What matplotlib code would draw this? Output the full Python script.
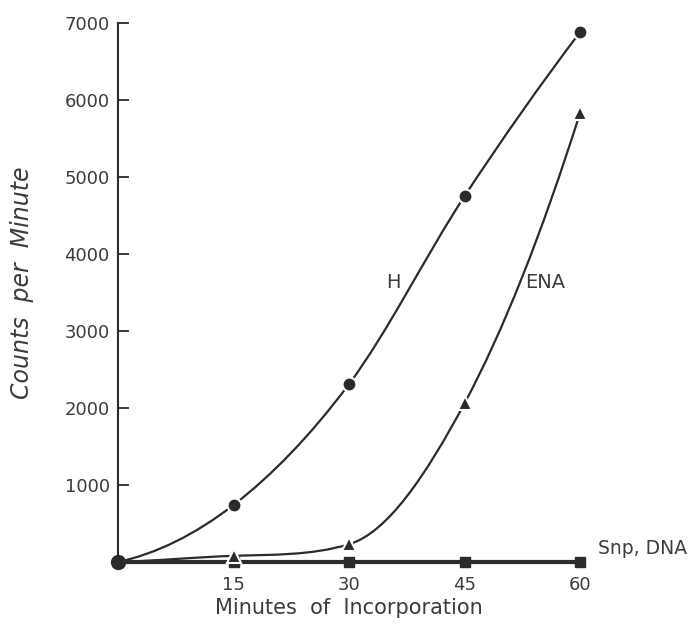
import numpy as np
import matplotlib
matplotlib.use("Agg")
import matplotlib.pyplot as plt
from matplotlib.path import Path
from matplotlib.patches import PathPatch

minutes = [0, 15, 30, 45, 60]
h_counts = [0, 740, 2310, 4750, 6880]
ena_counts = [0, 80, 230, 2060, 5830]
snp_dna_counts = [0, 0, 0, 0, 0]
y_ticks = [1000, 2000, 3000, 4000, 5000, 6000, 7000]
x_ticks = [15, 30, 45, 60]

LINE = "#2b2b2b"
TXT = "#3c3c3c"


def smooth_slopes(x, y):
    x = np.asarray(x, float); y = np.asarray(y, float)
    d = np.diff(y) / np.diff(x)
    m = np.zeros_like(y)
    m[1:-1] = (y[2:] - y[:-2]) / (x[2:] - x[:-2])
    m[0] = max(2 * d[0] - m[1], 0)
    m[-1] = 2 * d[-1] - m[-2]
    for k in range(len(d)):
        a = m[k] / d[k]; b = m[k + 1] / d[k]
        s = a * a + b * b
        if s > 9:
            t = 3 / np.sqrt(s)
            m[k] = t * a * d[k]; m[k + 1] = t * b * d[k]
    return m


def smooth_path(x, y):
    m = smooth_slopes(x, y)
    verts = [(x[0], y[0])]; codes = [Path.MOVETO]
    for k in range(len(x) - 1):
        dx = x[k + 1] - x[k]
        verts += [(x[k] + dx / 3, y[k] + m[k] * dx / 3),
                  (x[k + 1] - dx / 3, y[k + 1] - m[k + 1] * dx / 3),
                  (x[k + 1], y[k + 1])]
        codes += [Path.CURVE4] * 3
    return Path(verts, codes)


fig = plt.figure(figsize=(6.95, 6.27), dpi=100)
ax = fig.add_axes([118 / 695, 65 / 627, 462 / 695, 539 / 627])
ax.set_xlim(0, 60)
ax.set_ylim(0, 7000)

for ys in (h_counts, ena_counts):
    ax.add_patch(PathPatch(smooth_path(minutes, ys), facecolor="none",
                           edgecolor=LINE, lw=1.6, clip_on=False, zorder=2))

ax.plot(minutes, snp_dna_counts, color=LINE, lw=3.0, clip_on=False, zorder=3,
        marker="s", ms=7, mfc=LINE, mec=LINE)
ax.plot(minutes[1:], h_counts[1:], ls="none", marker="o", ms=10, mfc=LINE,
        mec="white", mew=1.5, clip_on=False, zorder=4)
ax.plot(minutes[1:], ena_counts[1:], ls="none", marker="^", ms=10, mfc=LINE,
        mec="white", mew=1.5, clip_on=False, zorder=4)
ax.plot([minutes[0]], [h_counts[0]], ls="none", marker="o", ms=10, mfc=LINE,
        mec=LINE, clip_on=False, zorder=5)

for s in ("top", "right", "bottom"):
    ax.spines[s].set_visible(False)
ax.spines["left"].set_color(LINE)
ax.spines["left"].set_linewidth(1.5)

ax.set_yticks(y_ticks)
ax.set_yticklabels([str(v) for v in y_ticks])
ax.set_xticks(x_ticks)
ax.set_xticklabels([str(v) for v in x_ticks])
ax.tick_params(axis="y", direction="in", length=8, width=1.3, color=LINE,
               labelsize=13, labelcolor=TXT, pad=6)
ax.tick_params(axis="x", length=0, labelsize=13, labelcolor=TXT, pad=10)

ax.set_xlabel("Minutes  of  Incorporation", fontsize=15, color=TXT, labelpad=3)
fig.text(22 / 695, 1 - 283 / 627, "Counts  per  Minute", rotation=90,
         fontsize=17, fontstyle="italic", color=TXT,
         family=["Liberation Sans Narrow", "DejaVu Sans"],
         ha="center", va="center")

fig.text(393 / 695, 1 - 282 / 627, "H", fontsize=14, color=TXT, ha="center", va="center")
fig.text(545 / 695, 1 - 282 / 627, "ENA", fontsize=14, color=TXT, ha="center", va="center")
fig.text(598 / 695, 1 - 549 / 627, "Snp, DNA", fontsize=13.5, color=TXT, ha="left", va="center")

fig.savefig("out.png", dpi=100, facecolor="white")
